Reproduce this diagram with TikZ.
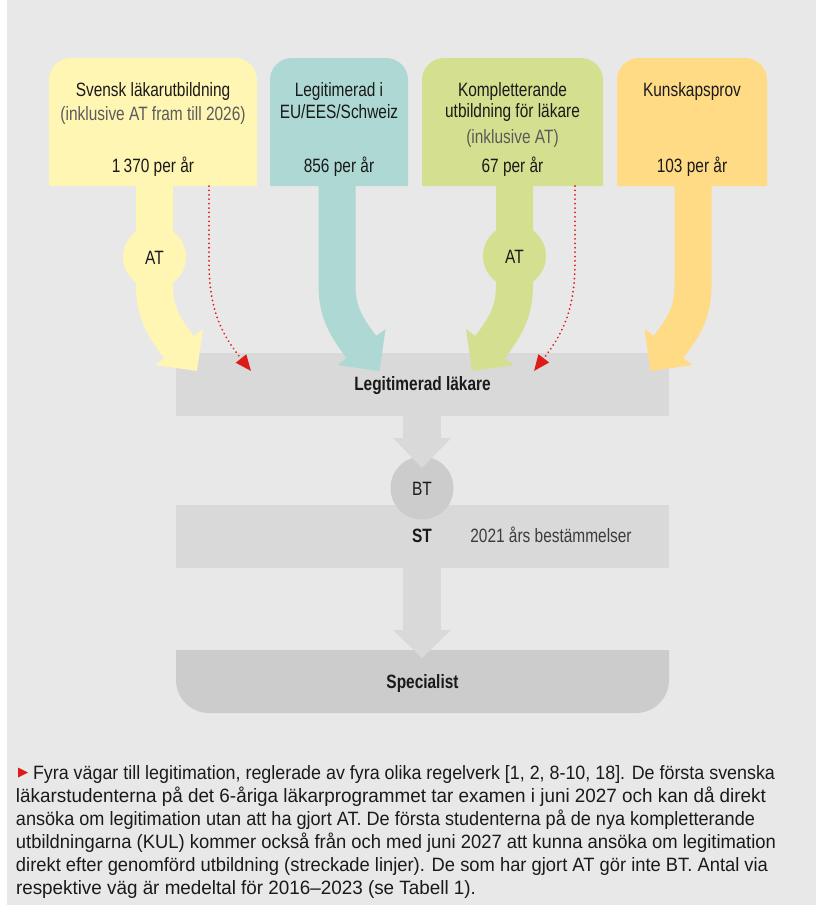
\documentclass[tikz,border=0pt]{standalone}
\usepackage{graphicx}
\usepackage{fontspec}
\setmainfont{Liberation Sans}[FakeStretch=0.80]
\newfontfamily\capfont{Liberation Sans}[FakeStretch=0.92]
\usetikzlibrary{arrows.meta}
\definecolor{bg}{HTML}{E8E8E8}
\definecolor{cyel}{HTML}{FFF6B3}
\definecolor{cteal}{HTML}{ADD8D3}
\definecolor{cgreen}{HTML}{D4E08F}
\definecolor{corange}{HTML}{FFDB86}
\definecolor{band}{HTML}{D9D9D9}
\definecolor{darkband}{HTML}{CCCCCC}
\definecolor{cred}{HTML}{DD1C1A}
\definecolor{txt}{HTML}{1A1A1A}
\definecolor{sub}{HTML}{5A5A5A}
\newcommand\myfat[3]{%
  \draw[line width=37pt,#1] (#2,186) -- (#2,285) .. controls (#2,310) and ({#2+#3*7.5},325) .. ({#2+#3*24.5},347);
  \fill[#1] ({#2+#3*0.5},365) -- ({#2+#3*42.5},371) -- ({#2+#3*48.5},329) -- cycle;}
\newcommand\capline[2]{\resizebox{#1pt}{\height}{#2}}
\begin{document}
\begin{tikzpicture}[x=1pt,y=-1pt,
  every node/.style={inner sep=0pt, outer sep=0pt, text=txt, font=\fontsize{19.3}{22}\selectfont},
  lbl/.style={anchor=base},
  sublbl/.style={anchor=base, text=sub},
  boldlbl/.style={anchor=base, font=\fontsize{19.3}{22}\selectfont\bfseries},
  captxt/.style={anchor=base west, text=txt, font=\fontsize{19.3}{23}\capfont},
  reddot/.style={draw=cred, line width=2pt, dash pattern=on 0.01pt off 4.4pt, line cap=round, -{Triangle[length=16pt,width=13pt]}},
  circ/.style={circle, minimum size=63pt}]
\useasboundingbox (0,0) rectangle (816,905);
\fill[white] (0,0) rectangle (816,905);
\fill[bg] (7,0) rectangle (816,905);

% Legitimerad band
\fill[band] (176,353) rectangle (669,416);
\node[boldlbl] (legit) at (422.5,390) {Legitimerad läkare};

% top boxes
\fill[cyel] (49,186) {[rounded corners=22pt] -- (49,58) -- (257,58)} -- (257,186) -- cycle;
\fill[cteal] (270,186) {[rounded corners=22pt] -- (270,58) -- (408,58)} -- (408,186) -- cycle;
\fill[cgreen] (422,186) {[rounded corners=22pt] -- (422,58) -- (603,58)} -- (603,186) -- cycle;
\fill[corange] (617,186) {[rounded corners=22pt] -- (617,58) -- (767,58)} -- (767,186) -- cycle;

\node[lbl] (b1a) at (153,96) {Svensk läkarutbildning};
\node[sublbl] (b1b) at (153,120) {(inklusive AT fram till 2026)};
\node[lbl] (b1c) at (153,172) {1\,370 per år};
\node[lbl] (b2a) at (339,96) {Legitimerad i};
\node[lbl] (b2b) at (339,118) {EU/EES/Schweiz};
\node[lbl] (b2c) at (339,172) {856 per år};
\node[lbl] (b3a) at (512.5,96) {Kompletterande};
\node[lbl] (b3b) at (512.5,117) {utbildning för läkare};
\node[sublbl] (b3c) at (512.5,143) {(inklusive AT)};
\node[lbl] (b3d) at (512.5,172) {67 per år};
\node[lbl] (b4a) at (692,96) {Kunskapsprov};
\node[lbl] (b4c) at (692,172) {103 per år};

% fat arrows
\myfat{cyel}{154.5}{1}
\myfat{cteal}{337}{1}
\myfat{cgreen}{514.5}{-1}
\myfat{corange}{693}{-1}

% AT circles
\node[circ, fill=cyel] (at1) at (154.5,257) {};
\node[lbl] at ([yshift=-7pt]at1.center) {AT};
\node[circ, fill=cgreen] (at2) at (514.5,256) {};
\node[lbl] at ([yshift=-7pt]at2.center) {AT};

% red dotted arrows
\coordinate (r1s) at (209,186);
\coordinate (r1e) at (251,371);
\coordinate (r2s) at (575,186);
\coordinate (r2e) at (534,371);
\draw[reddot] (r1s) -- (209,262) .. controls (209,312) and (223,336) .. (r1e);
\draw[reddot] (r2s) -- (575,262) .. controls (575,312) and (561,336) .. (r2e);

% ST band
\fill[band] (176,505) rectangle (669,568);
\node[circ, fill=darkband] (bt) at (422,488) {};
\node[lbl] at (422,495) {BT};
\fill[band] (403,416) rectangle (441,439);
\fill[band] (393,438) -- (451,438) -- (422,468) -- cycle;
\node[boldlbl] (st) at (422,542) {ST};
\node[lbl, text=txt!85] (reg) at (551,542) {2021 års bestämmelser};

% Specialist
\fill[darkband] (176,650) -- (669,650) {[rounded corners=33pt] -- (669,713) -- (176,713)} -- cycle;
\fill[band] (403,567) rectangle (441,631);
\fill[band] (393,630) -- (451,630) -- (422,658) -- cycle;
\node[boldlbl] (spec) at (422.5,688) {Specialist};

% caption
\fill[cred] (18,767.5) -- (28,772.5) -- (18,777.5) -- cycle;
\node[captxt] (c1) at (33,779) {\capline{742}{Fyra vägar till legitimation, reglerade av fyra olika regelverk [1, 2, 8-10, 18]. De första svenska}};
\node[captxt] (c2) at (16,802) {\capline{750}{läkarstudenterna på det 6-åriga läkarprogrammet tar examen i juni 2027 och kan då direkt}};
\node[captxt] (c3) at (16,825) {\capline{739}{ansöka om legitimation utan att ha gjort AT. De första studenterna på de nya kompletterande}};
\node[captxt] (c4) at (16,848) {\capline{760}{utbildningarna (KUL) kommer också från och med juni 2027 att kunna ansöka om legitimation}};
\node[captxt] (c5) at (16,871) {\capline{752}{direkt efter genomförd utbildning (streckade linjer). De som har gjort AT gör inte BT. Antal via}};
\node[captxt] (c6) at (16,894) {\capline{460}{respektive väg är medeltal för 2016–2023 (se Tabell 1).}};
\end{tikzpicture}
\end{document}
